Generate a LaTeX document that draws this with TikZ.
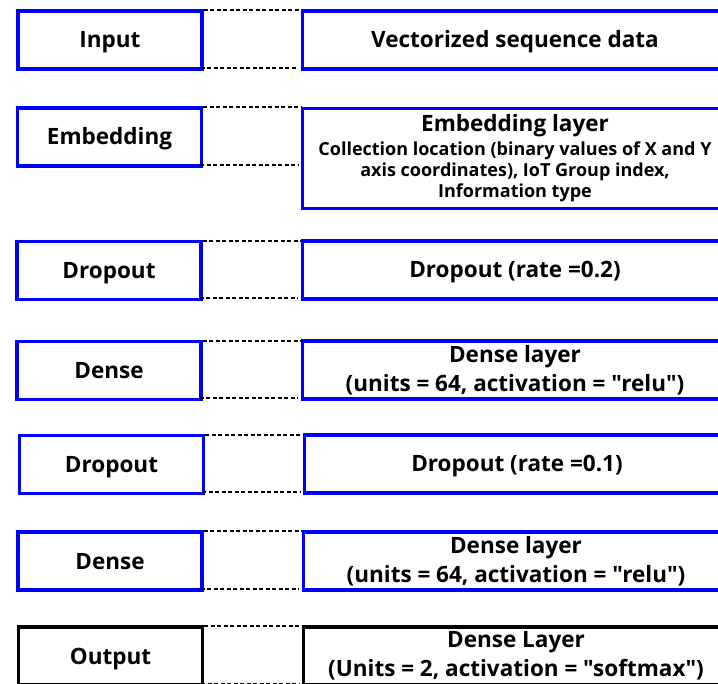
\documentclass[tikz,border=0pt]{standalone}
\usepackage{fontspec}
\setmainfont{Open Sans}[Ligatures=TeXOff]
\begin{document}
\begin{tikzpicture}[x=1pt,y=-1pt,
  box/.style={draw=blue, line width=3.2pt, inner sep=0pt, align=center,
    font=\bfseries\fontsize{22.5}{28.7}\selectfont},
  oneline/.style={text height=20.5pt, text depth=4.5pt},
  lbox/.style={box, oneline, minimum width=184pt, minimum height=58pt},
  rbox/.style={box, minimum width=425pt, minimum height=58pt},
  smalltext/.style={font=\bfseries\fontsize{18}{21}\selectfont},
  link/.style={black, line width=2pt, dash pattern=on 4pt off 2.5pt},
]
\useasboundingbox (0,0) rectangle (718,684);
\clip (0,0) rectangle (718,684);

% layer names (left column)
\node[lbox] (inL)  at (110,40)    {Input};
\node[lbox] (embL) at (109.5,137) {Embedding};
\node[lbox] (dr1L) at (109,270.5) {Dropout};
\node[lbox] (de1L) at (109,370.5) {Dense};
\node[lbox] (dr2L) at (111.5,464.5) {Dropout};
\node[lbox] (de2L) at (110,561)   {Dense};
\node[lbox, draw=black] (outL) at (110.5,656) {Output};

% layer descriptions (right column)
\node[rbox, oneline] (inR)  at (515,40)    {Vectorized sequence data};
\node[rbox, smalltext, minimum height=100pt] (embR) at (515,158.5)
  {{\fontsize{22.5}{24}\selectfont Embedding layer}\\[3pt]
   Collection location (binary values of X and Y\\
   axis coordinates), IoT Group index,\\
   Information type};
\node[rbox, oneline] (dr1R) at (515,270)   {Dropout (rate =0.2)};
\node[rbox] (de1R) at (515,370)   {Dense layer\\(units = 64, activation = "relu")};
\node[rbox, oneline] (dr2R) at (517,464)   {Dropout (rate =0.1)};
\node[rbox] (de2R) at (516,561)   {Dense layer\\(units = 64, activation = "relu")};
\node[rbox, draw=black] (outR) at (516,656) {Dense Layer\\(Units = 2, activation = "softmax")};

% dotted guides joining each pair
\foreach \a/\b in {inL/inR, embL/embR, dr1L/dr1R, de1L/de1R, dr2L/dr2R, de2L/de2R, outL/outR}{
  \draw[link] ([yshift=-1pt]\a.north east) -- ([yshift=-1pt]\b.north west |- \a.north east);
  \draw[link] ([xshift=-3pt,yshift=3pt]\a.south east) -- ([xshift=-3pt,yshift=3pt]\b.west |- \a.south east);
}
\end{tikzpicture}
\end{document}
